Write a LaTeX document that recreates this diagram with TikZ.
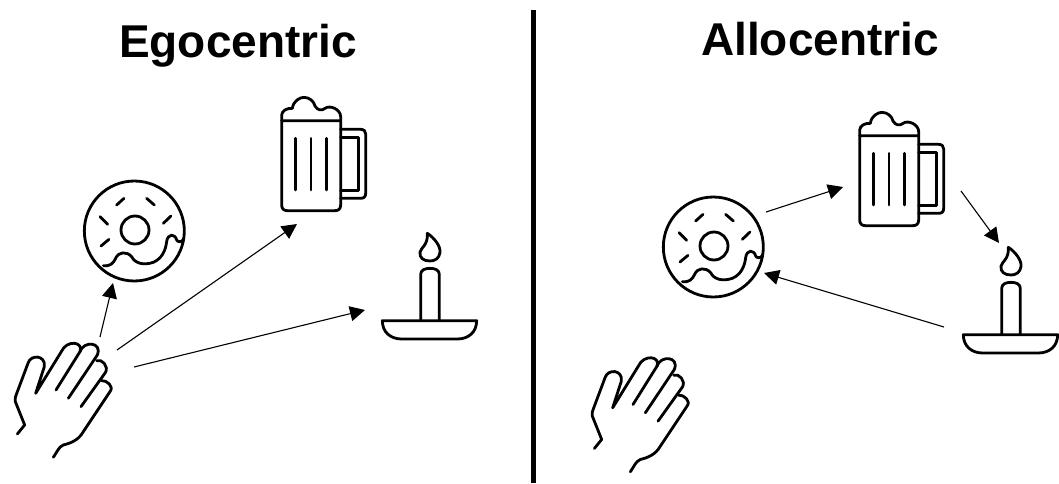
\documentclass[tikz,border=0pt]{standalone}
\usepackage{fontspec}
\setmainfont{Liberation Sans}
\usetikzlibrary{arrows.meta}
\tikzset{
 icon/.style={line width=2.8pt,line cap=round,line join=round,x=0.3333pt,y=-0.3333pt},
 link/.style={line width=1.1pt,-{Triangle[length=15pt,width=15pt]}},
 divider/.style={line width=4.4pt},
 title/.style={font=\fontsize{46}{50}\selectfont\bfseries,anchor=base},
 hand/.pic={
  \begin{scope}[icon]
  \draw (52,792) -- (74,765) -- (46,695) .. controls (44,688) and (46,682) .. (48,676) -- (84,580) .. controls (92,552) and (138,555) .. (133,590) -- (107,670)
    -- (184,545) .. controls (200,508) and (252,515) .. (240,545) -- (168,660);
  \draw (240,545) .. controls (250,512) and (308,515) .. (292,555) -- (205,685);
  \draw (290,572) .. controls (305,565) and (328,590) .. (316,608) -- (243,710);
  \draw (305,632) .. controls (320,630) and (343,650) .. (330,665) -- (250,785) .. controls (235,812) and (210,820) .. (190,825) .. controls (175,832) and (172,845) .. (160,862);
  \end{scope}},
 beer/.pic={
  \begin{scope}[icon]
  \draw (35,92) -- (35,345) .. controls (35,357) and (42,362) .. (52,362) -- (195,362) .. controls (205,362) and (212,357) .. (212,345) -- (212,92) -- cycle;
  \draw (35,92) -- (35,75) .. controls (36,62) and (50,54) .. (67,55) .. controls (70,32) and (90,22) .. (102,22) .. controls (118,22) and (132,34) .. (135,48) .. controls (142,60) and (155,64) .. (165,55) .. controls (180,44) and (212,58) .. (212,80) -- (212,92);
  \draw (77,145) -- (77,300) (123,145) -- (123,300) (170,145) -- (170,300);
  \draw (212,118) -- (272,118) .. controls (282,118) and (287,124) .. (287,132) -- (287,310) .. controls (287,320) and (282,325) .. (272,325) -- (212,325);
  \draw (212,142) -- (265,142) -- (265,302) -- (212,302);
  \end{scope}},
 candle/.pic={
  \begin{scope}[icon]
  \draw (172,25) .. controls (195,40) and (212,65) .. (210,82) .. controls (208,100) and (195,108) .. (180,108) .. controls (160,108) and (148,98) .. (150,82) .. controls (152,68) and (175,60) .. (172,25) -- cycle;
  \draw (152,285) -- (152,148) .. controls (152,135) and (165,130) .. (180,130) .. controls (195,130) and (208,135) .. (208,148) -- (208,285);
  \draw (37,287) -- (320,287) .. controls (320,322) and (295,342) .. (262,342) -- (95,342) .. controls (62,342) and (37,322) .. (37,287) -- cycle;
  \end{scope}},
 donut/.pic={
  \begin{scope}[icon]
  \draw (178,168) circle [radius=150];
  \draw (180,165) circle [radius=42];
  \draw (125,90) -- (147,70) (215,70) -- (238,90) (75,125) -- (98,148) (265,145) -- (288,123) (78,213) -- (102,193);
  \draw (85,272) .. controls (105,275) and (115,265) .. (122,250) .. controls (130,230) and (155,228) .. (170,245) .. controls (180,265) and (205,272) .. (235,262) .. controls (262,250) and (272,225) .. (275,200) .. controls (278,175) and (300,175) .. (305,195) .. controls (310,203) and (320,202) .. (326,192);
  \end{scope}}
}
\begin{document}
\begin{tikzpicture}[x=1pt,y=-1pt]
\useasboundingbox (0,0) rectangle (1059,483);
\node[title] (egotitle) at (238,57) {Egocentric};
\node[title] (allotitle) at (820,55) {Allocentric};
\coordinate (divtop) at (533.5,10);
\coordinate (divbot) at (533.5,483);
\draw[divider] (divtop) -- (divbot);
% Left panel
\pic at (0,170) {hand};
\pic at (270,90) {beer};
\pic at (370,225) {candle};
\pic at (75,175) {donut};
% Right panel
\pic at (577,184.5) {hand};
\pic at (848,105) {beer};
\pic at (951,239) {candle};
\pic at (654,191) {donut};
% Anchors
\coordinate (handA) at (100,337);
\coordinate (handB) at (117,350);
\coordinate (handC) at (134,367);
\coordinate (donutL) at (113,283);
\coordinate (beerL) at (297,224);
\coordinate (candleL) at (365,310);
\coordinate (donutOut) at (766,212);
\coordinate (beerIn) at (843,187);
\coordinate (beerOut) at (961,191);
\coordinate (candleIn) at (999,243);
\coordinate (candleOut) at (944,327);
\coordinate (donutIn) at (764,273);
\draw[link] (handA) -- (donutL);
\draw[link] (handB) -- (beerL);
\draw[link] (handC) -- (candleL);
\draw[link] (donutOut) -- (beerIn);
\draw[link] (beerOut) -- (candleIn);
\draw[link] (candleOut) -- (donutIn);
\end{tikzpicture}
\end{document}
